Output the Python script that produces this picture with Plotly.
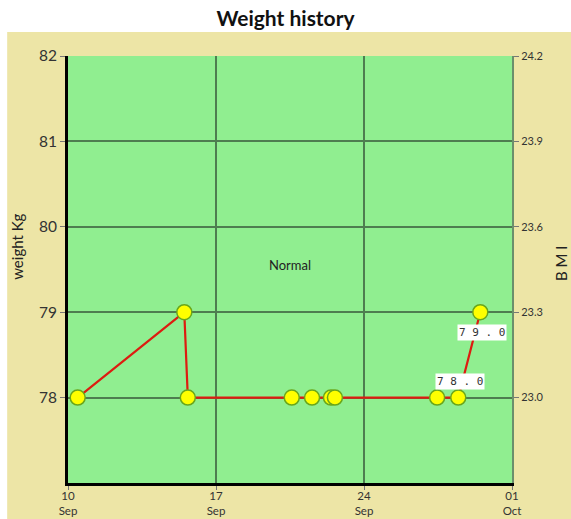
import plotly.graph_objects as go

dates = ["2023-09-10 11:00", "2023-09-15 12:00", "2023-09-15 16:00", "2023-09-20 14:00",
         "2023-09-21 13:00", "2023-09-22 10:30", "2023-09-22 15:00", "2023-09-27 11:00",
         "2023-09-28 11:00", "2023-09-29 12:00"]
weights = [78, 79, 78, 78, 78, 78, 78, 78, 78, 79]
label_idx = [8, 9]
label_text = ["7 8 . 0", "7 9 . 0"]
label_shift = [16, -20]
y_ticks = [78, 79, 80, 81, 82]
bmi_ticks = [23.0, 23.3, 23.6, 23.9, 24.2]
x_ticks = ["2023-09-10", "2023-09-17", "2023-09-24", "2023-10-01"]
x_labels = ["10<br>Sep", "17<br>Sep", "24<br>Sep", "01<br>Oct"]

FONT = "Lato, Open Sans, sans-serif"
grid = "#4e7d50"

fig = go.Figure()
fig.add_trace(go.Scatter(
    x=dates, y=weights, mode="lines+markers",
    line=dict(color="#dd1c10", width=2.2),
    marker=dict(size=15, color="#ffff00", line=dict(color="#6aa61a", width=1.5)),
    hoverinfo="skip", showlegend=False))
# invisible trace for BMI axis
fig.add_trace(go.Scatter(x=[dates[0]], y=[23.0], yaxis="y2", mode="markers",
                         marker=dict(opacity=0), hoverinfo="skip", showlegend=False))

for i, t, s in zip(label_idx, label_text, label_shift):
    fig.add_annotation(x=dates[i], y=weights[i], text=t, showarrow=False,
                       yshift=s, xshift=2, bgcolor="white",
                       font=dict(family="DejaVu Sans Mono", size=11, color="#333"),
                       borderpad=1)

fig.add_annotation(x=0.5, y=0.51, xref="paper", yref="paper", text="Normal", showarrow=False,
                   xanchor="center", yanchor="middle",
                   font=dict(family=FONT, size=13, color="#222"))
fig.add_annotation(x=-0.115, y=0.553, xref="paper", yref="paper", text="weight Kg", showarrow=False,
                   xanchor="center", yanchor="middle",
                   textangle=-90, font=dict(family=FONT, size=15, color="#222"))
fig.add_annotation(x=1.11, y=0.515, xref="paper", yref="paper", text="B M I", showarrow=False,
                   xanchor="center", yanchor="middle",
                   textangle=-90, font=dict(family=FONT, size=15, color="#222"))

# khaki backdrop and green plot area
fig.add_shape(type="rect", xref="paper", yref="paper", x0=-0.137, x1=1.2, y0=-0.2, y1=1.056,
              fillcolor="#ede5a6", line=dict(width=0), layer="below")
fig.add_shape(type="rect", xref="paper", yref="paper", x0=0, x1=1, y0=0, y1=1,
              fillcolor="#90ee90", line=dict(width=0), layer="below")

fig.update_layout(
    width=571, height=519,
    margin=dict(l=68, r=59, t=56, b=36, autoexpand=False),
    paper_bgcolor="white", plot_bgcolor="rgba(0,0,0,0)",
    title=dict(text="<b>Weight history</b>", x=0.5, xanchor="center", y=0.965, yanchor="middle",
               font=dict(family=FONT, size=21, color="#111")),
    xaxis=dict(type="date", range=["2023-09-10", "2023-10-01"], tickvals=x_ticks, ticktext=x_labels,
               showgrid=True, gridcolor=grid, gridwidth=2, zeroline=False, automargin=False,
               showline=True, linecolor="black", linewidth=3, ticks="outside", tickcolor="#777",
               ticklen=4, ticklabelstandoff=-4,
               tickfont=dict(family=FONT, size=11.5, color="#333")),
    yaxis=dict(range=[77, 82], tickvals=y_ticks, showgrid=True, gridcolor=grid, gridwidth=2,
               zeroline=False, showline=True, linecolor="black", linewidth=3, automargin=False,
               ticks="outside", tickcolor="#777", ticklen=5,
               tickfont=dict(family=FONT, size=15.5, color="#333")),
    yaxis2=dict(overlaying="y", side="right", range=[22.7, 24.2], tickvals=bmi_ticks, tickformat=".1f",
                showgrid=False, zeroline=False, showline=True, linecolor="#6b8f6b", linewidth=2,
                ticks="outside", tickcolor="#777", ticklen=5, automargin=False,
                tickfont=dict(family=FONT, size=11, color="#333")),
)

fig.write_html("out.html", config={"displayModeBar": False},
               post_script="document.body.style.margin='0px';document.body.style.overflow='hidden';")
